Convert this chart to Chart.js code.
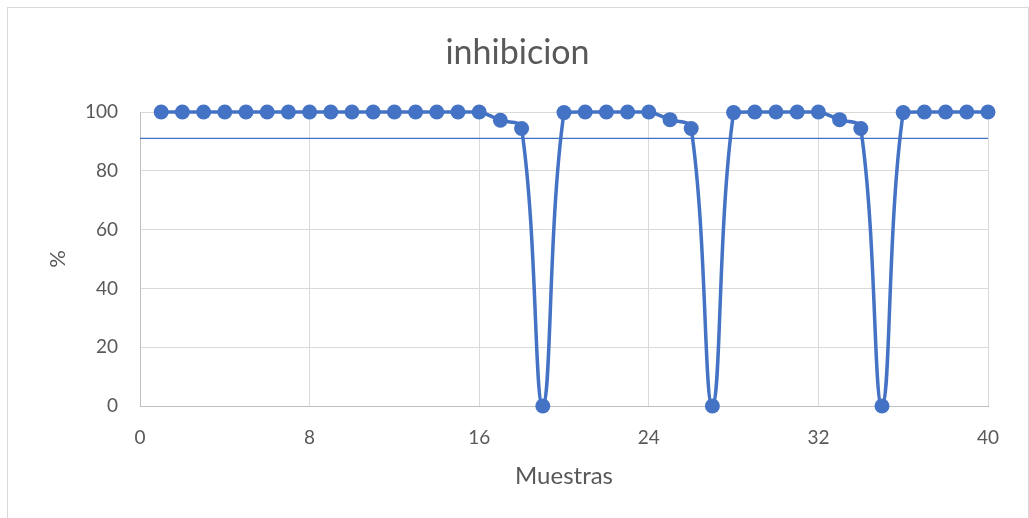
<!DOCTYPE html>
<html>
<head>
<meta charset="utf-8">
<title>inhibicion</title>
<script src="https://cdn.jsdelivr.net/npm/chart.js@4.4.1/dist/chart.umd.min.js"></script>
<style>
  html, body { margin: 0; padding: 0; background: #ffffff; }
  #wrap { position: relative; width: 1029px; height: 518px; overflow: hidden; }
  #frame { position: absolute; left: 7px; top: 7px; width: 1022px; height: 540px;
           border: 1px solid #d9d9d9; box-sizing: border-box; }
  canvas { position: absolute; left: 0; top: 0; }
</style>
</head>
<body>
<div id="wrap">
  <div id="frame"></div>
  <canvas id="c" width="1029" height="518"></canvas>
</div>
<script>
// Sample numbers (x) and inhibition percentage (y)
const muestras = [1, 2, 3, 4, 5, 6, 7, 8, 9, 10,
                  11, 12, 13, 14, 15, 16, 17, 18, 19, 20,
                  21, 22, 23, 24, 25, 26, 27, 28, 29, 30,
                  31, 32, 33, 34, 35, 36, 37, 38, 39, 40];
const inhibicion = [100, 100, 100, 100, 100, 100, 100, 100, 100, 100,
                    100, 100, 100, 100, 100, 100, 97.2, 94.4, 0, 99.8,
                    100, 100, 100, 100, 97.4, 94.4, 0, 99.8, 100, 100,
                    100, 100, 97.4, 94.4, 0, 99.8, 100, 100, 100, 100];

// Horizontal threshold line across the whole x range
const umbralX = [0, 40];
const umbralY = [91, 91];

// Axis tick values
const xTicks = [0, 8, 16, 24, 32, 40];
const yTicks = [0, 20, 40, 60, 80, 100];

const azul = '#4472C4';
const texto = '#595959';
const fuente = 'Lato, "Open Sans", "Noto Sans", sans-serif';

const puntos = muestras.map((x, i) => ({ x: x, y: inhibicion[i] }));
const umbral = umbralX.map((x, i) => ({ x: x, y: umbralY[i] }));

new Chart(document.getElementById('c'), {
  type: 'scatter',
  data: {
    datasets: [
      {
        label: 'inhibicion',
        data: puntos,
        showLine: true,
        tension: 0.4,
        borderColor: azul,
        backgroundColor: azul,
        borderWidth: 3.5,
        pointRadius: 7.5,
        pointHoverRadius: 7.5,
        pointBorderWidth: 0,
        pointBackgroundColor: azul,
        clip: false,
        order: 1
      },
      {
        label: 'umbral',
        data: umbral,
        showLine: true,
        tension: 0,
        borderColor: azul,
        borderWidth: 1.3,
        pointRadius: 0,
        pointHoverRadius: 0,
        order: 2
      }
    ]
  },
  options: {
    responsive: false,
    devicePixelRatio: 1,
    animation: false,
    events: [],
    layout: { padding: { left: 47, right: 41, top: 0, bottom: 0 } },
    plugins: {
      legend: { display: false },
      tooltip: { enabled: false },
      title: {
        display: true,
        text: 'inhibicion',
        color: texto,
        font: { family: fuente, size: 34, weight: 'normal', lineHeight: 1.2 },
        padding: { top: 32.6, bottom: 38.6 }
      }
    },
    scales: {
      x: {
        type: 'linear',
        min: 0,
        max: 40,
        afterBuildTicks: (s) => { s.ticks = xTicks.map(v => ({ value: v })); },
        afterFit: (s) => { s.height = 112; },
        ticks: { color: texto, padding: 20, font: { family: fuente, size: 19 } },
        grid: { color: '#d9d9d9', lineWidth: 1, drawTicks: false },
        border: { color: '#bfbfbf', width: 1 },
        title: {
          display: true,
          text: 'Muestras',
          color: texto,
          font: { family: fuente, size: 24, lineHeight: 1.2 },
          padding: { top: 0, bottom: 27 }
        }
      },
      y: {
        type: 'linear',
        min: 0,
        max: 100,
        afterBuildTicks: (s) => { s.ticks = yTicks.map(v => ({ value: v })); },
        afterFit: (s) => { s.width = 93; },
        ticks: { color: texto, padding: 22, font: { family: fuente, size: 19 } },
        grid: { color: '#d9d9d9', lineWidth: 1, drawTicks: false },
        border: { color: '#bfbfbf', width: 1 },
        title: {
          display: true,
          text: '%',
          color: texto,
          font: { family: fuente, size: 22, lineHeight: 1 },
          padding: { top: 0, bottom: 0 }
        }
      }
    }
  }
});
</script>
</body>
</html>
